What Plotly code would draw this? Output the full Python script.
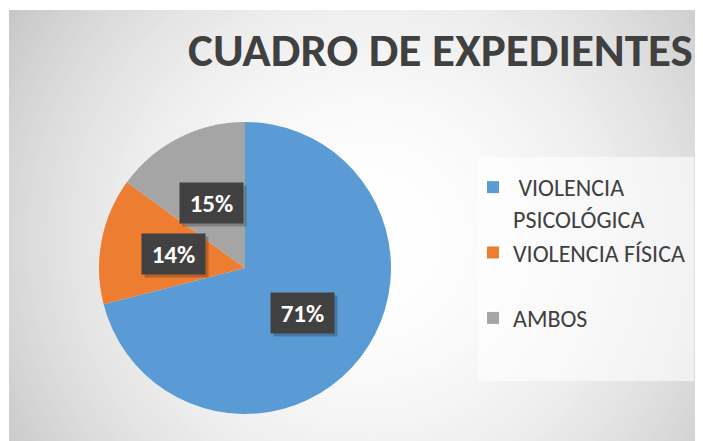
import math
import plotly.graph_objects as go

# ---- data ----
categories = ["VIOLENCIA PSICOLÓGICA", "VIOLENCIA FÍSICA", "AMBOS"]
legend_labels = ["&nbsp;VIOLENCIA<br>PSICOLÓGICA", "VIOLENCIA FÍSICA<br> ", "AMBOS"]
values = [71, 14, 15]
colors = ["#5B9BD5", "#ED7D31", "#A5A5A5"]
title_text = "CUADRO DE EXPEDIENTES"

# the page body has an 8px default margin; work in screen pixels and convert
OFF = 8
W, H = 703 - OFF, 441 - OFF
ML, MT = 9 - OFF, 10 - OFF
PW, PH = W - ML, H - MT

def px_x(x):  # screen x -> paper
    return (x - OFF - ML) / PW

def px_y(y):  # screen y -> paper
    return 1 - (y - OFF - MT) / PH

FONT = "Carlito, Calibri, 'Liberation Sans Narrow', sans-serif"

fig = go.Figure()

# pie geometry (screen pixels)
cx, cy, R = 245, 268, 146
fig.add_trace(go.Pie(
    labels=legend_labels,
    values=values,
    marker=dict(colors=colors, line=dict(width=0)),
    sort=False,
    direction="clockwise",
    rotation=0,
    textinfo="none",
    hoverinfo="skip",
    domain=dict(x=[px_x(cx - R), px_x(cx + R)], y=[px_y(cy + R), px_y(cy - R)]),
))

# ---- background radial gradient (decoration) ----
shapes = []
gx, gy = 370, 240
rmax = 480
steps = 70
for i in range(steps):
    r = rmax * (1 - i / steps)
    g = int(round(255 - 55 * (r / 427) ** 2))
    g = max(190, min(255, g))
    col = f"rgb({g},{g},{g})"
    shapes.append(dict(type="circle", layer="below", xref="paper", yref="paper",
                       xsizemode="pixel", ysizemode="pixel",
                       xanchor=px_x(gx), yanchor=px_y(gy),
                       x0=-r, x1=r, y0=-r, y1=r,
                       fillcolor=col, line=dict(width=0)))
# white outer border strips
shapes.append(dict(type="rect", layer="below", xref="paper", yref="paper",
                   x0=-0.05, x1=0, y0=-0.1, y1=1.1, fillcolor="white", line=dict(width=0)))
shapes.append(dict(type="rect", layer="below", xref="paper", yref="paper",
                   x0=-0.05, x1=1.1, y0=1, y1=1.1, fillcolor="white", line=dict(width=0)))
# legend box
shapes.append(dict(type="rect", layer="below", xref="paper", yref="paper",
                   x0=px_x(478), x1=px_x(694), y0=px_y(381), y1=px_y(157),
                   fillcolor="rgba(255,255,255,0.6)", line=dict(width=0)))

# ---- data labels ----
annotations = []
total = sum(values)
start = 0.0
for v in values:
    frac = v / total
    mid = (start + frac / 2) * 2 * math.pi
    start += frac
    lx = cx + 0.5 * R * math.sin(mid)
    ly = cy - 0.5 * R * math.cos(mid)
    txt = f"<b>{round(100 * frac)}%</b>"
    common = dict(xref="paper", yref="paper", xanchor="center", yanchor="middle",
                  showarrow=False, width=55, height=32, borderpad=4)
    # shadow box (no text)
    annotations.append(dict(x=px_x(lx + 3), y=px_y(ly + 3), text="&nbsp;",
                            bgcolor="rgba(0,0,0,0.22)",
                            font=dict(family=FONT, size=25, color="rgba(0,0,0,0)"), **common))
    annotations.append(dict(x=px_x(lx), y=px_y(ly), text=txt, bgcolor="#414141",
                            font=dict(family=FONT, size=25, color="white"), **common))

# title
annotations.append(dict(x=px_x(440), y=px_y(50), xref="paper", yref="paper",
                        xanchor="center", yanchor="middle", showarrow=False,
                        text=f"<b>{title_text}</b>",
                        font=dict(family=FONT, size=47, color="#404040")))

fig.update_layout(
    width=W, height=H,
    margin=dict(l=ML, r=0, t=MT, b=0),
    paper_bgcolor="white",
    plot_bgcolor="rgba(0,0,0,0)",
    shapes=shapes,
    annotations=annotations,
    showlegend=True,
    legend=dict(x=px_x(473), y=px_y(165), xanchor="left", yanchor="top",
                bgcolor="rgba(0,0,0,0)", valign="top", traceorder="normal",
                font=dict(family=FONT, size=24, color="#404040")),
)

fig.write_html("out.html")
